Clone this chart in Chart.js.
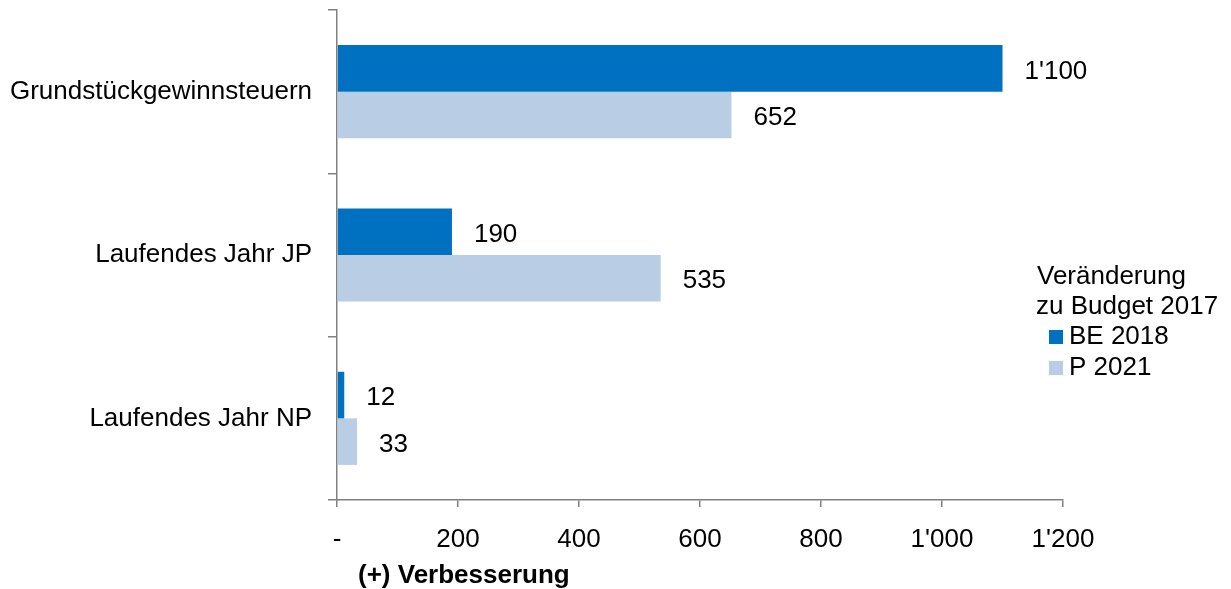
<!DOCTYPE html>
<html><head><meta charset="utf-8">
<script src="https://cdn.jsdelivr.net/npm/chart.js@4"></script>
<style>html,body{margin:0;padding:0;background:#fff}#wrap{width:1231px;height:589px;position:relative}</style>
</head><body><div id="wrap"><canvas id="c"></canvas></div>
<script>
const categories = ["Grundstückgewinnsteuern", "Laufendes Jahr JP", "Laufendes Jahr NP"];
const seriesNames = ["BE 2018", "P 2021"];
const be2018 = [1100, 190, 12];
const p2021 = [652, 535, 33];
const xTicks = [0, 200, 400, 600, 800, 1000, 1200];
const legendTitle = ["Veränderung", "zu Budget 2017"];
const axisTitle = "(+) Verbesserung";

const FONT = "'Liberation Sans', Arial, sans-serif";
const FS = 26;
const fmt = v => v === 0 ? "-" : String(v).replace(/\B(?=(\d{3})+(?!\d))/g, "'");

const valueLabels = {
  id: 'valueLabels',
  afterDatasetsDraw(chart) {
    const ctx = chart.ctx;
    ctx.save();
    ctx.font = FS + "px " + FONT;
    ctx.fillStyle = "#000";
    ctx.textAlign = "left";
    ctx.textBaseline = "middle";
    chart.data.datasets.forEach((ds, di) => {
      const meta = chart.getDatasetMeta(di);
      meta.data.forEach((bar, i) => {
        ctx.fillText(fmt(ds.data[i]), bar.x + 22, bar.y + 3);
      });
    });
    ctx.restore();
  }
};

const customLegend = {
  id: 'customLegend',
  afterDraw(chart) {
    const ctx = chart.ctx;
    ctx.save();
    ctx.font = FS + "px " + FONT;
    ctx.fillStyle = "#000";
    ctx.textBaseline = "middle";
    ctx.textAlign = "left";
    ctx.fillText(legendTitle[0], 1037, 277);
    ctx.fillText(legendTitle[1], 1036, 307);
    chart.data.datasets.forEach((ds, i) => {
      const y = 337 + i * 31;
      ctx.fillStyle = ds.backgroundColor;
      ctx.fillRect(1049, y - 7, 14, 14);
      ctx.fillStyle = "#000";
      ctx.fillText(ds.label, 1069, y);
    });
    ctx.font = "bold " + FS + "px " + FONT;
    ctx.fillText(axisTitle, 358, 576);
    ctx.restore();
  }
};

new Chart(document.getElementById('c'), {
  type: 'bar',
  data: {
    labels: categories,
    datasets: [
      { label: seriesNames[0], data: be2018, backgroundColor: '#0070C0', categoryPercentage: 0.57, barPercentage: 1.0 },
      { label: seriesNames[1], data: p2021, backgroundColor: '#B9CDE5', categoryPercentage: 0.57, barPercentage: 1.0 }
    ]
  },
  options: {
    indexAxis: 'y',
    responsive: true,
    maintainAspectRatio: false,
    animation: false,
    layout: { padding: { top: 10, right: 168, left: 0, bottom: 0 } },
    plugins: { legend: { display: false }, tooltip: { enabled: false } },
    scales: {
      x: {
        min: 0, max: 1200,
        afterBuildTicks: s => { s.ticks = xTicks.map(v => ({ value: v })); },
        afterFit: s => { s.height = 89; s.paddingLeft = 0; },
        border: { display: true, color: '#808080', width: 1.5 },
        grid: { drawOnChartArea: false, drawTicks: true, tickLength: 7, color: '#808080', lineWidth: 1.5 },
        ticks: { color: '#000', font: { family: FONT, size: FS }, padding: 17, callback: v => fmt(v), maxRotation: 0 }
      },
      y: {
        afterFit: s => { s.width = 337; s.paddingTop = 0; s.paddingBottom = 0; },
        border: { display: true, color: '#808080', width: 1.5 },
        grid: { offset: true, drawOnChartArea: false, drawTicks: true, tickLength: 9, color: '#808080', lineWidth: 1.5 },
        ticks: { color: '#000', font: { family: FONT, size: FS }, padding: 16 }
      }
    }
  },
  plugins: [valueLabels, customLegend]
});
</script></body></html>
